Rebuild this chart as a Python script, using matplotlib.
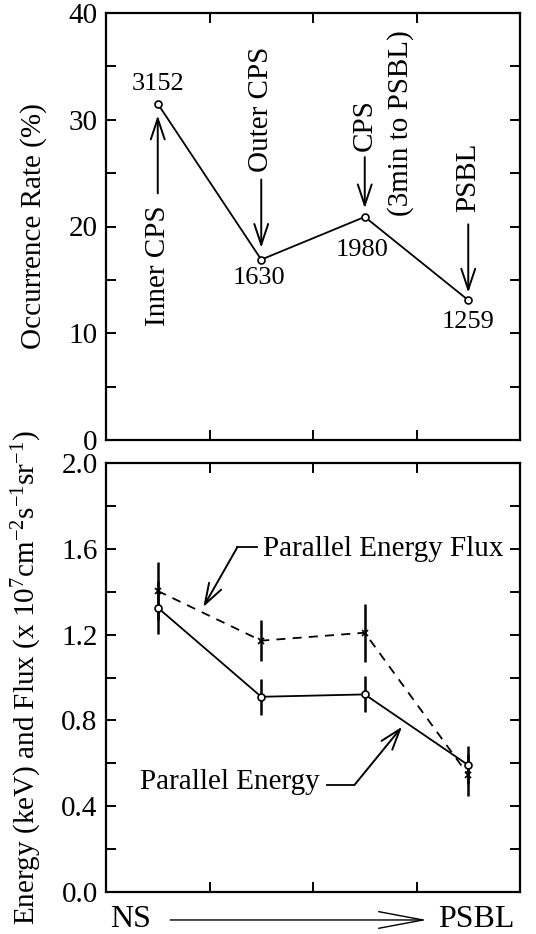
import matplotlib
matplotlib.use("Agg")
import matplotlib.pyplot as plt
import numpy as np

plt.rcParams['font.family'] = ['Liberation Serif', 'DejaVu Serif']
plt.rcParams['mathtext.fontset'] = 'custom'
plt.rcParams['mathtext.rm'] = 'Liberation Serif'
plt.rcParams['mathtext.it'] = 'Liberation Serif:italic'

# region positions along NS -> PSBL
positions = [0.5, 1.5, 2.5, 3.5]

# occurrence rate and number of events per region
occurrence = [31.5, 16.9, 20.9, 13.1]
event_counts = ["3152", "1630", "1980", "1259"]

# parallel energy (keV) and parallel energy flux (x 10^7) with error bars
par_energy = [1.326, 0.910, 0.921, 0.591]
par_energy_err = [0.125, 0.085, 0.084, 0.090]
par_flux = [1.404, 1.172, 1.209, 0.545]
par_flux_err = [0.135, 0.095, 0.136, 0.100]

FS = 21
W, H = 536, 934
fig = plt.figure(figsize=(W / 100, H / 100), dpi=100)

def frame(ax):
    for s in ax.spines.values():
        s.set_linewidth(1.6)
    ax.tick_params(direction='in', length=7, width=1.4, top=True, right=True,
                   labelsize=FS, pad=6)
    ax.set_xlim(0, 4)
    ax.set_xticks([1, 2, 3])
    ax.set_xticklabels([])

# ---- top: occurrence rate ----
ax1 = fig.add_axes([106 / W, 1 - 440 / H, 414 / W, 427 / H])
frame(ax1)
ax1.set_ylim(0, 40)
ax1.set_yticks(np.arange(0, 41, 5))
ax1.set_yticklabels([str(v) if v % 10 == 0 else "" for v in range(0, 41, 5)])
ax1.plot(positions, occurrence, color='k', lw=1.3, marker='o', ms=5,
         mfc='white', mec='k', mew=1.2)
ax1.set_ylabel("Occurrence Rate (%)", fontsize=FS)
ax1.yaxis.set_label_coords(-0.143, 0.5)

count_offsets = [(0, 14), (-1.5, -13), (-2, -24), (0, -16)]
for x, y, c, off in zip(positions, occurrence, event_counts, count_offsets):
    ax1.annotate(c, (x, y), xytext=off, textcoords='offset points',
                 ha='center', va='center', fontsize=19)

arr = dict(arrowstyle='->,head_length=0.75,head_width=0.25', lw=1.4,
           color='k', mutation_scale=20, shrinkA=0, shrinkB=0)
# region labels with arrows
ax1.text(0.5, 16.3, "Inner CPS", rotation=90, ha='center', va='center', fontsize=FS)
ax1.annotate("", xy=(0.5, 30.4), xytext=(0.5, 23.1), arrowprops=arr)
ax1.text(1.5, 31.0, "Outer CPS", rotation=90, ha='center', va='center', fontsize=FS)
ax1.annotate("", xy=(1.5, 18.0), xytext=(1.5, 24.4), arrowprops=arr)
ax1.text(2.5, 29.5, "CPS", rotation=90, ha='center', va='center', fontsize=FS)
ax1.text(2.85, 29.7, "(3min to PSBL)", rotation=90, ha='center', va='center', fontsize=FS)
ax1.annotate("", xy=(2.5, 21.7), xytext=(2.5, 26.5), arrowprops=arr)
ax1.text(3.5, 24.6, "PSBL", rotation=90, ha='center', va='center', fontsize=FS)
ax1.annotate("", xy=(3.5, 13.8), xytext=(3.5, 20.2), arrowprops=arr)

# ---- bottom: parallel energy and flux ----
ax2 = fig.add_axes([106 / W, 1 - 891.7 / H, 414 / W, 428.4 / H])
frame(ax2)
ax2.set_ylim(0, 2.0)
ax2.set_yticks(np.arange(0, 2.01, 0.2))
ax2.set_yticklabels([f"{v:.1f}" if i % 2 == 0 else "" for i, v in
                     enumerate(np.arange(0, 2.01, 0.2))])

ax2.errorbar(positions, par_flux, yerr=par_flux_err, color='k', lw=1.3,
             ls=(0, (5, 4)), marker='x', ms=5, mew=1.2, elinewidth=1.8,
             capsize=0)
ax2.errorbar(positions, par_energy, yerr=par_energy_err, color='k', lw=1.3,
             marker='o', ms=5, mfc='white', mec='k', mew=1.2, elinewidth=1.8,
             capsize=0)

ax2.text(1.52, 1.60, "Parallel Energy Flux", ha='left', va='center', fontsize=FS)
ax2.plot([1.27, 1.46], [1.609, 1.609], color='k', lw=1.3)
ax2.annotate("", xy=(0.94, 1.329), xytext=(1.27, 1.609), arrowprops=arr)
ax2.text(0.33, 0.513, "Parallel Energy", ha='left', va='center', fontsize=FS)
ax2.plot([2.14, 2.40], [0.498, 0.498], color='k', lw=1.3)
ax2.annotate("", xy=(2.86, 0.770), xytext=(2.40, 0.498), arrowprops=arr)

ax2.set_ylabel("Energy (keV) and Flux (x 10$^7$cm$^{-2}$s$^{-1}$sr$^{-1}$)",
               fontsize=FS)
ax2.yaxis.set_label_coords(-0.15, 0.5)

# NS -> PSBL axis caption
ax2.text(0.06, -0.066, "NS", transform=ax2.transAxes, ha='center',
         va='center', fontsize=FS + 2)
ax2.text(0.894, -0.066, "PSBL", transform=ax2.transAxes, ha='center',
         va='center', fontsize=FS + 2)
ax2.annotate("", xy=(0.775, -0.066), xytext=(0.155, -0.066),
             xycoords='axes fraction', textcoords='axes fraction',
             arrowprops=dict(arrowstyle='->,head_length=1.6,head_width=0.3',
                             lw=1.0, color='k', mutation_scale=20,
                             shrinkA=0, shrinkB=0))

fig.savefig("out.png", dpi=100)
